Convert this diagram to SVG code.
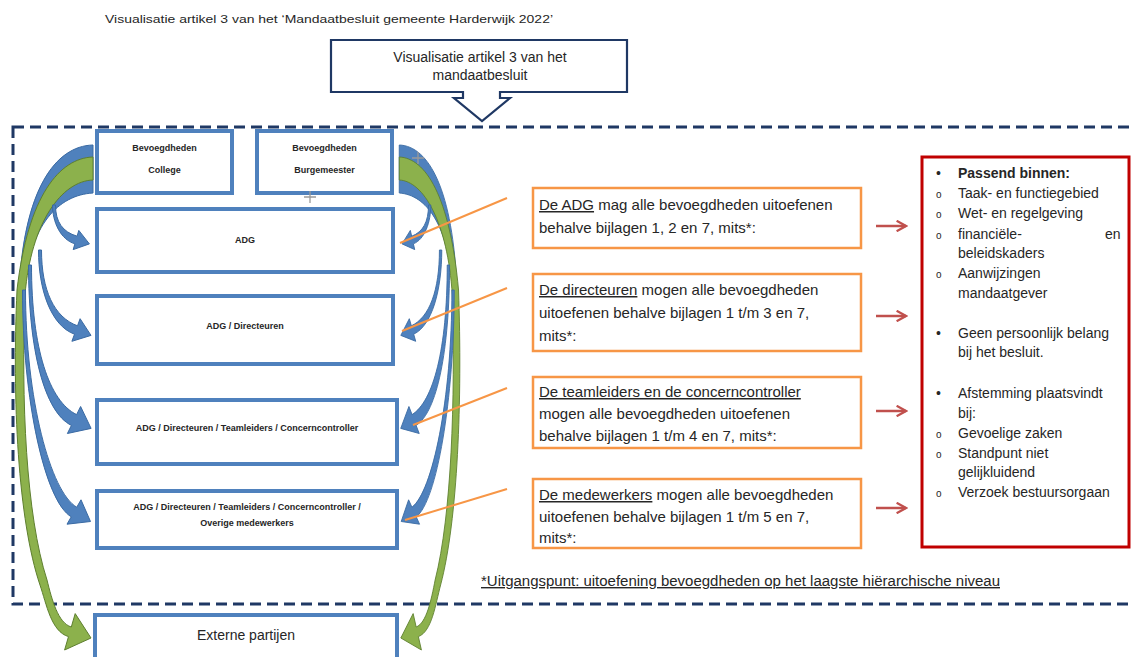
<svg xmlns="http://www.w3.org/2000/svg" width="1132" height="657" viewBox="0 0 1132 657">
<defs>
<style>
.t{font-family:"Liberation Sans",Arial,sans-serif;fill:#262626}
.bx{fill:#fff;stroke:#4F81BD;stroke-width:4}
.ob{fill:#fff;stroke:#F79646;stroke-width:2.5}
.bl{fill:#4F81BD;stroke:#3A6AA3;stroke-width:1}
.gr{fill:#8CB14C;stroke:#5E7F2F;stroke-width:1}
.ol{stroke:#F79646;stroke-width:2;fill:none}
.ra{stroke:#C0504D;stroke-width:2.5;fill:none;marker-end:url(#rh)}
.b9{font-size:9px;font-weight:bold;text-anchor:middle}
.o15{font-size:15px}
.r14{font-size:14px}
.u{text-decoration:underline}
</style>
<marker id="rh" viewBox="0 0 12 12" refX="10" refY="6" markerWidth="5" markerHeight="5" orient="auto" markerUnits="strokeWidth">
<path d="M1,1 L10,6 L1,11" fill="none" stroke="#C0504D" stroke-width="2.2"/>
</marker>
<g id="arrset">
<path class="bl" d="M93,145 C55,146 24,190 19,290 L24,290 C30,225 58,195 93,193 Z"/>
<path class="gr" d="M93,157 C60,158 28,195 17,290 C12,400 18,520 40,585 C46.6,604.5 51.2,631.6 68.5,636.6 L64.6,650 L91,638 L75.2,613.6 L71.3,627 C58,623 52,600 47,580 C26,515 21,400 25,295 C31,222 62,181 93,180 Z"/>
<path class="bl" d="M55.5,205 L52.5,205 C52.5,222 60.5,239.6 74.9,243.8 L73.2,249.6 L89.4,243.9 L78.8,230.4 L77.1,236.2 C62.7,232 55.5,222 55.5,205 Z"/>
<path class="bl" d="M41.5,250 L38.5,250 C38.5,290 51,325.7 74.5,334.2 L71.9,341.3 L91,335.4 L80.1,318.7 L77.5,325.8 C54,317.3 41.5,290 41.5,250 Z"/>
<path class="bl" d="M31.5,265 L28.5,265 C28.5,350 44.4,412.2 71.4,425.4 L67.4,433.5 L91.1,428.4 L80.6,406.5 L76.6,414.6 C49.6,401.4 31.5,350 31.5,265 Z"/>
<path class="bl" d="M25.5,290 L22.5,290 C22.5,400 45.1,501.8 71.25,516.8 L67,524.2 L90.5,521.5 L81,499.8 L76.75,507.2 C50.65,492.2 25.5,400 25.5,290 Z"/>
</g>
</defs>
<rect width="1132" height="657" fill="#fff"/>
<text class="t" x="105" y="23" font-size="11.5" textLength="448" lengthAdjust="spacingAndGlyphs">Visualisatie artikel 3 van het  ‘Mandaatbesluit gemeente Harderwijk 2022’</text>

<g id="callout">
<path d="M331,40 H627 V92 H500 V98 H510 L482,121 L454,98 H463 V92 H331 Z" fill="#fff" stroke="#1F3864" stroke-width="2.2"/>
<text class="t" x="480" y="62" font-size="14" text-anchor="middle">Visualisatie artikel 3 van het</text>
<text class="t" x="480" y="80" font-size="14" text-anchor="middle">mandaatbesluit</text>
</g>

<rect id="scope" x="13" y="127" width="1135" height="477" fill="none" stroke="#1F3864" stroke-width="3" stroke-dasharray="11 6"/>

<g id="connectors">
<use href="#arrset"/>
<use href="#arrset" transform="translate(471.8,0) scale(-0.78,1)"/>
<line class="ol" x1="400" y1="243" x2="507" y2="198"/>
<line class="ol" x1="402" y1="331" x2="507" y2="288"/>
<line class="ol" x1="413" y1="425" x2="507" y2="388"/>
<line class="ol" x1="405" y1="520" x2="507" y2="489"/>
<line class="ra" x1="876" y1="226" x2="906" y2="226"/>
<line class="ra" x1="876" y1="316" x2="906" y2="316"/>
<line class="ra" x1="876" y1="411" x2="906" y2="411"/>
<line class="ra" x1="876" y1="508" x2="906" y2="508"/>
</g>

<g id="college">
<rect class="bx" x="97" y="131" width="135" height="62"/>
<text class="t b9" x="164.5" y="151">Bevoegdheden</text>
<text class="t b9" x="164.5" y="173">College</text>
</g>
<g id="burgemeester">
<rect class="bx" x="257" y="131" width="135" height="62"/>
<text class="t b9" x="324.5" y="151">Bevoegdheden</text>
<text class="t b9" x="324.5" y="173">Burgemeester</text>
</g>
<g id="adg">
<rect class="bx" x="97" y="209" width="296" height="63"/>
<text class="t b9" x="245" y="243">ADG</text>
</g>
<g id="adg-dir">
<rect class="bx" x="97" y="296" width="296" height="68"/>
<text class="t b9" x="245" y="329">ADG / Directeuren</text>
</g>
<g id="adg-dir-team">
<rect class="bx" x="97" y="400" width="300" height="64"/>
<text class="t b9" x="247" y="431">ADG / Directeuren / Teamleiders / Concerncontroller</text>
</g>
<g id="adg-all">
<rect class="bx" x="97" y="491" width="300" height="57"/>
<text class="t b9" x="247" y="510">ADG / Directeuren / Teamleiders / Concerncontroller /</text>
<text class="t b9" x="247" y="526">Overige medewerkers</text>
</g>
<g id="extern">
<rect class="bx" x="95" y="615" width="302" height="50" stroke-width="5"/>
<text class="t" x="246" y="640" font-size="14" text-anchor="middle">Externe partijen</text>
</g>

<g id="cursor-marks" stroke="#9a9a9a" stroke-width="1.3" fill="none">
<path d="M412,158 H424 M418,152 V164"/>
<path d="M304,197 H316 M310,191 V203"/>
</g>

<g id="tekst-adg">
<rect class="ob" x="533" y="188" width="328" height="60"/>
<text class="t o15" x="539" y="210"><tspan class="u">De ADG</tspan> mag alle bevoegdheden uitoefenen</text>
<text class="t o15" x="539" y="233">behalve bijlagen 1, 2 en 7, mits*:</text>
</g>
<g id="tekst-dir">
<rect class="ob" x="533" y="274" width="328" height="77"/>
<text class="t o15" x="539" y="295"><tspan class="u">De directeuren</tspan> mogen alle bevoegdheden</text>
<text class="t o15" x="539" y="318">uitoefenen behalve bijlagen 1 t/m 3 en 7,</text>
<text class="t o15" x="539" y="341">mits*:</text>
</g>
<g id="tekst-team">
<rect class="ob" x="533" y="377" width="328" height="71"/>
<text class="t o15" x="539" y="397"><tspan class="u">De teamleiders en de concerncontroller</tspan></text>
<text class="t o15" x="539" y="419">mogen alle bevoegdheden uitoefenen</text>
<text class="t o15" x="539" y="441">behalve bijlagen 1 t/m 4 en 7, mits*:</text>
</g>
<g id="tekst-mw">
<rect class="ob" x="533" y="479" width="328" height="69"/>
<text class="t o15" x="539" y="500"><tspan class="u">De medewerkers</tspan> mogen alle bevoegdheden</text>
<text class="t o15" x="539" y="522">uitoefenen behalve bijlagen 1 t/m 5 en 7,</text>
<text class="t o15" x="539" y="543">mits*:</text>
</g>

<g id="voorwaarden">
<rect x="922" y="157" width="207" height="390" fill="#fff" stroke="#C00000" stroke-width="3"/>
<g class="t r14">
<text x="936" y="178">•</text><text x="958" y="178" font-weight="bold">Passend binnen:</text>
<text x="936" y="198" font-size="10">o</text><text x="958" y="198">Taak- en functiegebied</text>
<text x="936" y="218" font-size="10">o</text><text x="958" y="218">Wet- en regelgeving</text>
<text x="936" y="239" font-size="10">o</text><text x="958" y="239">financiële-<tspan x="1105">en</tspan></text>
<text x="958" y="258">beleidskaders</text>
<text x="936" y="278" font-size="10">o</text><text x="958" y="278">Aanwijzingen</text>
<text x="958" y="298">mandaatgever</text>
<text x="936" y="338">•</text><text x="958" y="338">Geen persoonlijk belang</text>
<text x="958" y="357">bij het besluit.</text>
<text x="936" y="398">•</text><text x="958" y="398">Afstemming plaatsvindt</text>
<text x="958" y="418">bij:</text>
<text x="936" y="438" font-size="10">o</text><text x="958" y="438">Gevoelige zaken</text>
<text x="936" y="458" font-size="10">o</text><text x="958" y="458">Standpunt niet</text>
<text x="958" y="477">gelijkluidend</text>
<text x="936" y="497" font-size="10">o</text><text x="958" y="497">Verzoek bestuursorgaan</text>
</g>
</g>

<text id="footnote" class="t r14 u" x="481" y="586" textLength="519" lengthAdjust="spacingAndGlyphs">*Uitgangspunt: uitoefening bevoegdheden op het laagste hiërarchische niveau</text>
</svg>
